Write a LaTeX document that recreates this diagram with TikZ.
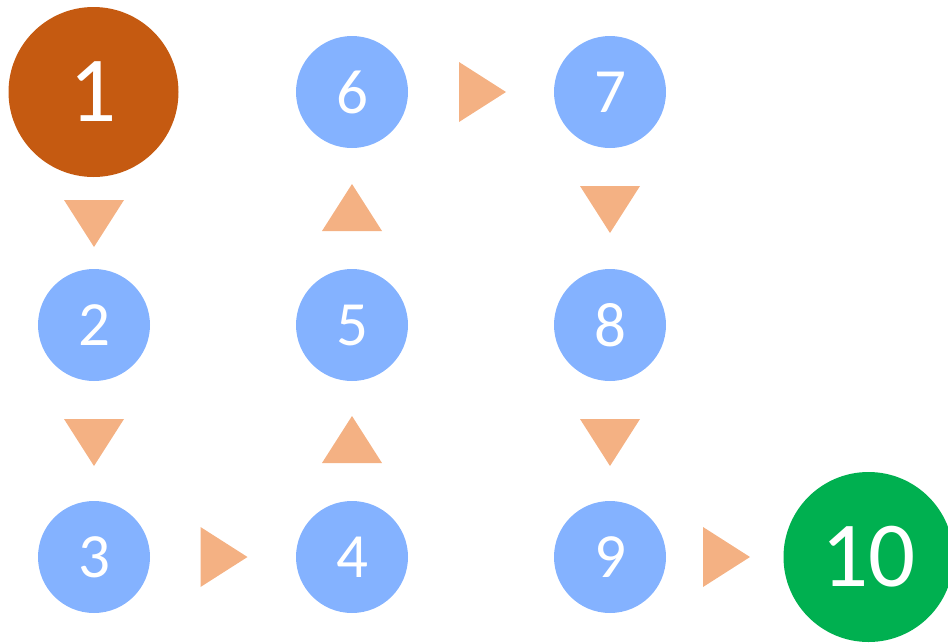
\documentclass[tikz,border=0pt]{standalone}
\usepackage{fontspec}
\setmainfont{Carlito}
\definecolor{startc}{HTML}{C55A11}
\definecolor{midc}{HTML}{84B2FF}
\definecolor{endc}{HTML}{00B050}
\definecolor{tric}{HTML}{F4B183}
\begin{document}
\begin{tikzpicture}[x=1pt,y=-1pt,
  small/.style={circle,fill=midc,text=white,minimum size=112pt,inner sep=0pt,font=\fontsize{63}{63}\selectfont},
  big/.style={circle,text=white,minimum size=170pt,inner sep=0pt,font=\fontsize{93}{93}\selectfont},
  tri/.style={fill=tric}]
\useasboundingbox (0,0) rectangle (948,643);
\node[big,fill=startc] (n1) at (93.5,92) {1};
\node[small] (n2) at (94,325) {2};
\node[small] (n3) at (94,557) {3};
\node[small] (n4) at (352,557) {4};
\node[small] (n5) at (352,325) {5};
\node[small] (n6) at (352,92) {6};
\node[small] (n7) at (610,92) {7};
\node[small] (n8) at (610,325) {8};
\node[small] (n9) at (610,557) {9};
\node[big,fill=endc] (n10) at (868.5,557) {10};
% down triangles
\fill[tri] (64,200) -- (124,200) -- (94,247) -- cycle;
\fill[tri] (64,419) -- (124,419) -- (94,466) -- cycle;
\fill[tri] (580,186) -- (640,186) -- (610,233) -- cycle;
\fill[tri] (580,419) -- (640,419) -- (610,466) -- cycle;
% up triangles
\fill[tri] (322,463) -- (382,463) -- (352,416) -- cycle;
\fill[tri] (322,231) -- (382,231) -- (352,184) -- cycle;
% right triangles
\fill[tri] (200.5,527) -- (200.5,587) -- (247.5,557) -- cycle;
\fill[tri] (459,62) -- (459,122) -- (506,92) -- cycle;
\fill[tri] (703,527) -- (703,587) -- (750,557) -- cycle;
\end{tikzpicture}
\end{document}
